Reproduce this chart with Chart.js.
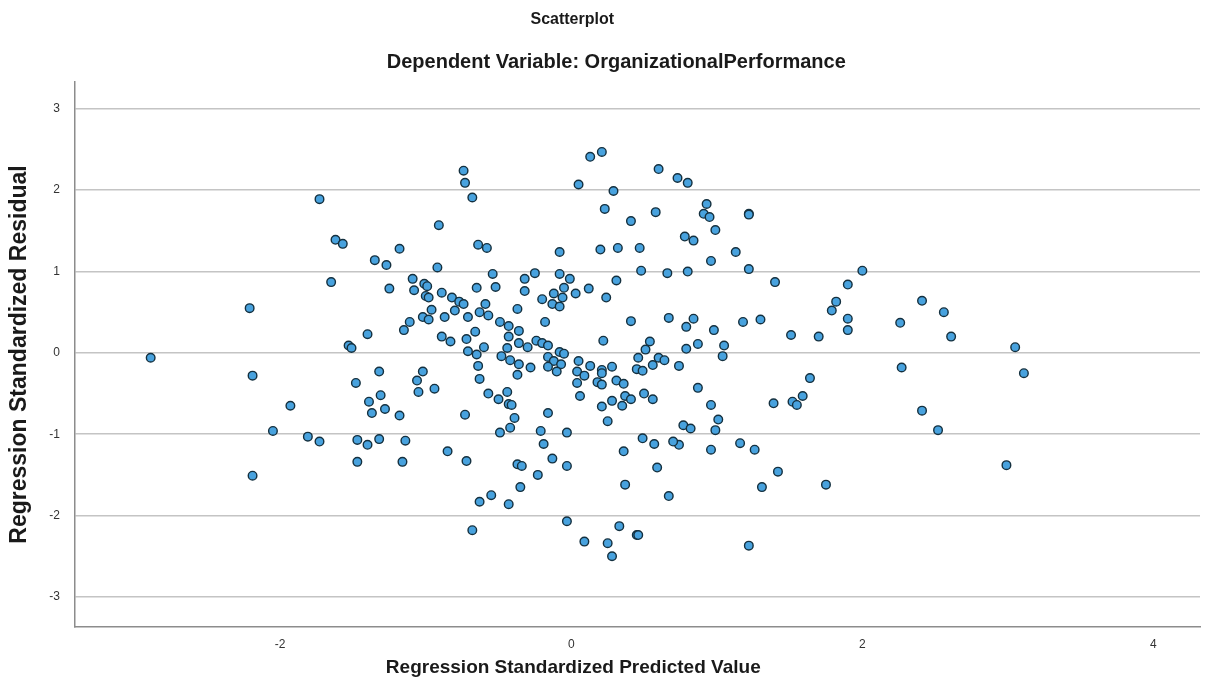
<!DOCTYPE html>
<html>
<head>
<meta charset="utf-8">
<script src="https://cdn.jsdelivr.net/npm/chart.js@4.4.1/dist/chart.umd.min.js"></script>
<style>
  html, body { margin: 0; padding: 0; background: #fff; }
</style>
</head>
<body>
<canvas id="chart" width="1217" height="698"></canvas>
<script>
// Texts
const chartTitle = 'Scatterplot';
const chartSubtitle = 'Dependent Variable: OrganizationalPerformance';
const xAxisTitle = 'Regression Standardized Predicted Value';
const yAxisTitle = 'Regression Standardized Residual';

// Tick labels
const xTicks = [-2, 0, 2, 4];
const yTicks = [-3, -2, -1, 0, 1, 2, 3];

// Regression Standardized Predicted Value (x) for each case
const predicted = [
  -1.73, -1.62, -1.57, -1.18, -1.35, -1.27, -1.09, -1.65, -1.25, -1.08,
  -2.21, -1.11, -1.15, -1.40, -1.53, -1.51, -2.89, -1.32, -1.02, -2.19,
  -1.48, -1.02, -1.06, -1.05, -1.31, -1.39, -1.28, -1.37, -1.18, -1.93,
  -2.05, -1.81, -1.73, -1.47, -1.40, -1.32, -1.14, -1.47, -1.16, -2.19,
  -0.74, -0.73, -0.68, -0.91, -0.64, -0.58, -0.92, -1.01, -0.99, -1.00,
  -0.98, -0.89, -0.82, -0.77, -0.74, -0.80, -0.96, -0.98, -0.87, -0.89,
  -0.83, -0.71, -0.63, -0.59, -0.57, -0.65, -0.54, -0.52, -0.49, -0.66,
  -0.72, -0.71, -0.65, -0.60, -0.64, -0.43, -0.43, -0.36, -0.36, -0.44,
  -0.48, -0.42, -0.36, -0.30, -0.37, -0.32, -0.32, -0.25, -0.18, -0.20,
  -0.24, -0.20, -0.16, -0.16, -0.08, -0.05, -0.12, -0.07, -0.28, -0.08,
  -0.08, -0.01, -0.05, -0.12, -0.06, -0.13, -0.08, 0.03, 0.12, 0.24,
  0.31, 0.05, 0.13, 0.21, 0.29, 0.23, 0.20, 0.32, 0.41, 0.47,
  0.48, 0.58, 0.60, 0.73, 0.80, 0.78, 0.84, 0.66, 0.80, 0.41,
  0.67, 0.79, 0.84, 0.87, 0.79, 0.54, 0.51, 0.46, 0.60, 0.64,
  0.56, 0.74, 0.22, 0.05, 0.13, 0.28, 0.21,
  0.93, 0.91, 0.95, 1.22, 1.22, 0.99, 1.13, 0.96, 1.22, 1.40,
  2.00, 1.90, 1.82, 1.79, 1.90, 1.90, 2.41, 2.56, 2.26, 2.61,
  0.98, 1.18, 1.30, 1.51, 1.70, 1.05, 1.04, 2.27,
  3.05, 3.11, 2.99,
  1.64, 0.87, 0.96, 1.39, 1.52, 1.55, 1.59, 2.41, 1.01, 0.99,
  0.77, 0.82, 2.52, 0.74, 0.96, 1.16, 1.26, 1.42, 1.31, 1.75,
  1.22,
  -0.94, -0.63, -0.57, -0.50, -0.44, -0.37, -0.43, -0.41, -0.39, -0.42,
  -0.49, -0.73, -0.85, -0.72, -0.16, -0.21, -0.19, -0.03, -0.13, -0.03,
  -0.23, -0.37, -0.34, -0.35, -0.55, -0.63, -0.43, -0.68, -0.03, 0.09,
  0.25, 0.28, 0.33, 0.45, 0.46, -0.16, -0.10, 0.04, 0.04, 0.06,
  0.09, 0.21, 0.18, 0.21, 0.31, 0.36, 0.37, 0.41, 0.35, 0.28,
  0.21, 0.25, 0.45, 0.49, 0.50, 0.56, 0.49, 0.57, 0.70, 0.36,
  0.59, 0.37, 0.67
];

// Regression Standardized Residual (y) for each case
const residual = [
  1.89, 1.39, 1.34, 1.28, 1.14, 1.08, 0.91, 0.87, 0.79, 0.77,
  0.55, 0.38, 0.28, 0.23, 0.09, 0.06, -0.06, -0.23, 0.44, -0.28,
  -0.37, -0.23, -0.34, -0.48, -0.52, -0.60, -0.69, -0.74, -0.77, -0.65,
  -0.96, -1.03, -1.09, -1.07, -1.13, -1.06, -1.08, -1.34, -1.34, -1.51,
  2.24, 2.09, 1.91, 1.57, 1.33, 1.29, 1.05, 0.85, 0.82, 0.70,
  0.68, 0.74, 0.68, 0.63, 0.60, 0.52, 0.53, 0.41, 0.44, 0.20,
  0.14, 0.44, 0.50, 0.60, 0.46, 0.80, 0.97, 0.81, 0.38, 0.26,
  0.17, 0.02, -0.02, 0.07, -0.16, 0.33, 0.20, 0.27, 0.12, 0.06,
  -0.04, -0.09, -0.14, 0.07, 0.54, 0.91, 0.76, 0.98, 0.38, 0.66,
  0.15, 0.12, 0.09, -0.05, 0.01, -0.01, -0.10, -0.14, -0.18, 1.24,
  0.97, 0.91, 0.80, 0.73, 0.68, 0.60, 0.57, 0.73, 0.79, 0.68,
  0.89, 2.07, 2.41, 2.47, 1.99, 1.77, 1.27, 1.29, 1.62, 1.29,
  1.01, 1.73, 2.26, 2.15, 2.09, 1.43, 1.38, 0.98, 1.00, 0.39,
  0.43, 0.32, 0.42, 0.11, 0.05, 0.14, 0.04, -0.06, -0.06, -0.09,
  -0.15, -0.16, 0.15, -0.10, -0.16, -0.17, -0.21,
  1.83, 1.71, 1.67, 1.71, 1.70, 1.51, 1.24, 1.13, 1.03, 0.87,
  1.01, 0.84, 0.63, 0.52, 0.42, 0.28, 0.64, 0.50, 0.37, 0.20,
  0.28, 0.38, 0.41, 0.22, 0.20, 0.09, -0.04, -0.18,
  0.07, -0.25, -1.38,
  -0.31, -0.43, -0.64, -0.62, -0.60, -0.64, -0.53, -0.71, -0.82, -0.95,
  -0.89, -0.93, -0.95, -1.13, -1.19, -1.11, -1.19, -1.46, -1.65, -1.62,
  -2.37,
  -0.44, -0.32, -0.50, -0.57, -0.48, -0.27, -0.63, -0.64, -0.80, -0.92,
  -0.98, -0.76, -1.21, -1.33, -0.74, -0.96, -1.12, -0.98, -1.30, -1.39,
  -1.50, -1.37, -1.39, -1.65, -1.75, -1.83, -1.86, -2.18, -2.07, -2.32,
  -2.34, -2.50, -2.13, -2.24, -2.24, -0.17, -0.23, -0.23, -0.37, -0.53,
  -0.28, -0.25, -0.36, -0.39, -0.34, -0.38, -0.53, -0.57, -0.65, -0.59,
  -0.66, -0.84, -0.20, -0.22, -0.50, -0.57, -1.05, -1.12, -1.09, -1.21,
  -1.41, -1.62, -1.76
];

const points = predicted.map((x, i) => ({ x: x, y: residual[i] }));

Chart.defaults.font.family = '"Liberation Sans", Arial, sans-serif';
Chart.defaults.color = '#222';

// titles drawn by hand so they can sit where SPSS puts them
const titlesPlugin = {
  id: 'spssTitles',
  afterDraw(chart) {
    const ctx = chart.ctx;
    const zeroX = chart.scales.x.getPixelForValue(0);
    ctx.save();
    ctx.fillStyle = '#1a1a1a';
    ctx.textAlign = 'center';
    ctx.textBaseline = 'middle';
    ctx.font = 'bold 16px "Liberation Sans", Arial, sans-serif';
    ctx.fillText(chartTitle, zeroX + 1, 20);
    ctx.font = 'bold 20px "Liberation Sans", Arial, sans-serif';
    ctx.fillText(chartSubtitle, zeroX + 45, 62);
    ctx.font = 'bold 19px "Liberation Sans", Arial, sans-serif';
    ctx.fillText(xAxisTitle, zeroX + 2, 668);
    ctx.restore();
  }
};

new Chart(document.getElementById('chart'), {
  type: 'scatter',
  data: {
    datasets: [{
      data: points,
      backgroundColor: '#48a2de',
      borderColor: '#14303f',
      borderWidth: 1.4,
      pointRadius: 4.3,
      pointHoverRadius: 4.3
    }]
  },
  options: {
    responsive: false,
    animation: false,
    devicePixelRatio: 1,
    layout: { padding: { top: 82, right: 17, left: 0, bottom: 0 } },
    plugins: {
      legend: { display: false },
      tooltip: { enabled: false }
    },
    scales: {
      x: {
        type: 'linear',
        min: -3.41,
        max: 4.32,
        afterFit: function(scale) { scale.height = 71; },
        afterBuildTicks: function(scale) {
          scale.ticks = xTicks.map(v => ({ value: v }));
        },
        grid: { display: false, drawTicks: false },
        border: { display: true, color: '#8c8c8c', width: 1.5 },
        ticks: { padding: 10, font: { size: 12 }, color: '#333' },
        title: { display: false }
      },
      y: {
        type: 'linear',
        min: -3.37,
        max: 3.33,
        afterFit: function(scale) { scale.width = 75; },
        afterBuildTicks: function(scale) {
          scale.ticks = yTicks.map(v => ({ value: v }));
        },
        grid: { color: '#c4c4c4', lineWidth: 1.5, drawTicks: false },
        border: { display: true, color: '#8c8c8c', width: 1.5 },
        ticks: { padding: 15, font: { size: 12 }, color: '#333' },
        title: {
          display: true,
          text: yAxisTitle,
          font: { size: 23, weight: 'bold' },
          color: '#1a1a1a',
          padding: { top: 6, bottom: 0 }
        }
      }
    }
  },
  plugins: [titlesPlugin]
});
</script>
</body>
</html>
